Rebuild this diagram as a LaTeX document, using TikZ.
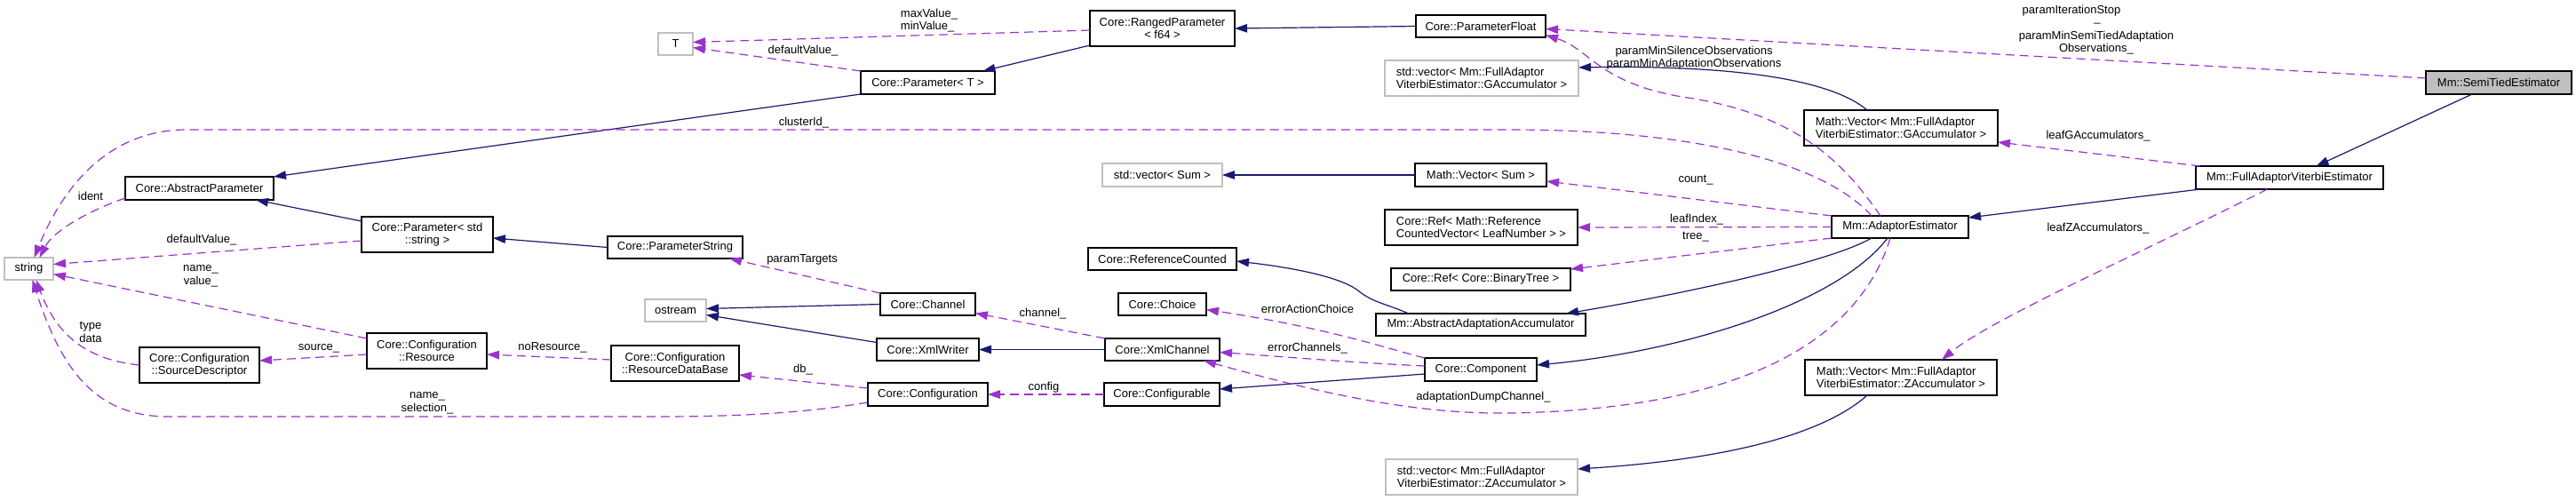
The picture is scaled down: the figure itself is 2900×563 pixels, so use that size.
\documentclass[tikz,border=0pt]{standalone}
\usepackage{fontspec}
\setmainfont{Liberation Sans}
\usetikzlibrary{arrows.meta}
\definecolor{inh}{RGB}{25,25,112}
\definecolor{usec}{RGB}{154,50,205}
\definecolor{extc}{RGB}{191,191,191}
\begin{document}
\begin{tikzpicture}[x=1pt,y=-1pt,
  every node/.style={font=\fontsize{13}{14.5}\selectfont, inner sep=0pt, outer sep=0pt},
  cls/.style={draw=black, fill=white, line width=1.2pt, align=center},
  clsl/.style={cls, align=left},
  extcls/.style={cls, draw=extc},
  extclsl/.style={clsl, draw=extc},
  lbl/.style={align=center},
  inhedge/.style={draw=inh, line width=1.2pt, -{Triangle[length=14pt,width=9.5pt]}},
  useedge/.style={draw=usec, line width=1.2pt, dash pattern=on 10pt off 6pt, -{Triangle[length=14pt,width=9.5pt]}}
]
\useasboundingbox (0,0) rectangle (2900,563);

% ---------- nodes ----------
\node[extcls, minimum width=39pt, minimum height=25pt] (T) at (760.5,49.5) {T};
\node[extcls, minimum width=55pt, minimum height=25pt] (string) at (32.5,302.5) {string};
\node[cls, minimum width=167pt, minimum height=26pt] (absparam) at (224.5,212) {Core::AbstractParameter};
\node[cls, minimum width=148pt, minimum height=40pt] (pstd) at (481,264) {Core::Parameter< std\\::string >};
\node[cls, minimum width=152pt, minimum height=25pt] (pstring) at (760,278.5) {Core::ParameterString};
\node[cls, minimum width=163pt, minimum height=40pt] (ranged) at (1308.5,32) {Core::RangedParameter\\< f64 >};
\node[cls, minimum width=151pt, minimum height=26pt] (paramT) at (1044.5,93) {Core::Parameter< T >};
\node[cls, minimum width=146pt, minimum height=25pt] (pfloat) at (1667,29.5) {Core::ParameterFloat};
\node[extclsl, minimum width=218pt, minimum height=40pt] (svg) at (1668,88) {std::vector< Mm::FullAdaptor\\ViterbiEstimator::GAccumulator >};
\node[clsl, minimum width=218pt, minimum height=40pt] (mvg) at (2140,144) {Math::Vector< Mm::FullAdaptor\\ViterbiEstimator::GAccumulator >};
\node[extcls, minimum width=135pt, minimum height=26pt] (svsum) at (1308.5,197) {std::vector< Sum >};
\node[cls, minimum width=148pt, minimum height=26pt] (mvsum) at (1667,197) {Math::Vector< Sum >};
\node[clsl, minimum width=217pt, minimum height=40pt] (refleaf) at (1667.5,256) {Core::Ref< Math::Reference\\CountedVector< LeafNumber > >};
\node[cls, minimum width=154pt, minimum height=25pt] (ae) at (2139,255.5) {Mm::AdaptorEstimator};
\node[cls, fill=extc, minimum width=164pt, minimum height=26pt] (semitied) at (2813,93) {Mm::SemiTiedEstimator};
\node[cls, minimum width=211pt, minimum height=26pt] (fullad) at (2577.5,200) {Mm::FullAdaptorViterbiEstimator};
\node[cls, minimum width=167pt, minimum height=25pt] (refcount) at (1308.5,291.5) {Core::ReferenceCounted};
\node[cls, minimum width=202pt, minimum height=25pt] (refbin) at (1667,314.5) {Core::Ref< Core::BinaryTree >};
\node[cls, minimum width=236pt, minimum height=25pt] (absadapt) at (1667,365.5) {Mm::AbstractAdaptationAccumulator};
\node[cls, minimum width=126pt, minimum height=26pt] (component) at (1667,416) {Core::Component};
\node[clsl, minimum width=216pt, minimum height=40pt] (mvz) at (2140,425) {Math::Vector< Mm::FullAdaptor\\ViterbiEstimator::ZAccumulator >};
\node[extclsl, minimum width=216pt, minimum height=40pt] (svz) at (1668,537) {std::vector< Mm::FullAdaptor\\ViterbiEstimator::ZAccumulator >};
\node[extcls, minimum width=69pt, minimum height=25pt] (ostream) at (760.5,349.5) {ostream};
\node[cls, minimum width=107pt, minimum height=25pt] (channel) at (1044.5,342.5) {Core::Channel};
\node[cls, minimum width=115pt, minimum height=25pt] (xmlwriter) at (1044.5,393.5) {Core::XmlWriter};
\node[cls, minimum width=99pt, minimum height=25pt] (choice) at (1308.5,342.5) {Core::Choice};
\node[cls, minimum width=129pt, minimum height=25pt] (xmlchannel) at (1308.5,393.5) {Core::XmlChannel};
\node[cls, minimum width=135pt, minimum height=26pt] (configuration) at (1044.5,444) {Core::Configuration};
\node[cls, minimum width=130pt, minimum height=26pt] (configurable) at (1308,444) {Core::Configurable};
\node[cls, minimum width=135pt, minimum height=40pt] (srcdesc) at (224.5,411) {Core::Configuration\\::SourceDescriptor};
\node[cls, minimum width=135pt, minimum height=40pt] (confres) at (480.5,395) {Core::Configuration\\::Resource};
\node[cls, minimum width=144pt, minimum height=40pt] (rdb) at (760,409) {Core::Configuration\\::ResourceDataBase};

% ---------- inheritance edges ----------
\path[inhedge] (pfloat.west) -- (ranged.east);
\path[inhedge] ([yshift=1pt]ranged.south west) -- ([xshift=62pt]paramT.north);
\path[inhedge] (paramT.south west) -- (absparam.north east);
\path[inhedge] ([yshift=-5pt]pstd.north west) -- ([xshift=-20pt]absparam.south east);
\path[inhedge] (pstring.west) -- ([yshift=-4pt]pstd.east);
\path[inhedge] (channel.west) -- ([yshift=2pt]ostream.east);
\path[inhedge] ([yshift=8pt]xmlwriter.west) -- ([yshift=-5pt]ostream.east);
\path[inhedge] (xmlchannel.west) -- (xmlwriter.east);
\path[inhedge] (mvsum.west) -- (svsum.east);
\path[inhedge] ([xshift=-38pt]mvg.north) .. controls (2050,80) and (1900,74) .. ([yshift=12pt]svg.east);
\path[inhedge] ([xshift=-81pt]absadapt.north) .. controls (1560,342) and (1545,340) .. (1530,328) .. controls (1515,315) and (1470,303) .. ([yshift=-2.5pt]refcount.east);
\path[inhedge] ([xshift=-32pt]ae.south) .. controls (2060,295) and (1900,330) .. ([xshift=-22pt]absadapt.north east);
\path[inhedge] ([xshift=-14pt]ae.south) .. controls (2070,340) and (1900,395) .. ([yshift=5pt]component.east);
\path[inhedge] ([yshift=-5pt]component.west) -- ([yshift=6pt]configurable.east);
\path[inhedge] ([xshift=5pt]fullad.south west) -- ([yshift=-2pt]ae.north east);
\path[inhedge] ([xshift=-30pt]semitied.south) -- ([xshift=30pt]fullad.north);
\path[inhedge] ([xshift=-38pt]mvz.south) .. controls (2040,500) and (1900,520) .. ([yshift=9pt]svz.east);

% ---------- usage edges ----------
\path[useedge] ([yshift=-2pt]ranged.west) -- ([yshift=2pt]T.east);
\path[useedge] (paramT.north west) -- ([yshift=-4pt]T.east);
\path[useedge] ([yshift=2pt]absparam.south west) .. controls (100,237) and (60,260) .. ([xshift=12pt]string.north);
\path[useedge] ([xshift=-32pt]ae.north) .. controls (2050,180) and (1900,146) .. (1700,146) -- (210,146) .. controls (130,146) and (75,200) .. ([xshift=6pt]string.north);
\path[useedge] ([yshift=-7pt]pstd.west) -- ([yshift=5pt]string.east);
\path[useedge] ([yshift=14pt]confres.west) -- ([yshift=-6pt]string.east);
\path[useedge] (srcdesc.west) .. controls (100,405) and (65,380) .. ([xshift=8pt]string.south);
\path[useedge] ([yshift=-4pt]confres.west) -- ([yshift=5pt]srcdesc.east);
\path[useedge] ([yshift=4pt]rdb.west) -- ([yshift=-4pt]confres.east);
\path[useedge] ([yshift=4pt]configuration.south west) .. controls (900,466) and (820,469) .. (740,469) -- (190,469) .. controls (110,469) and (70,420) .. ([xshift=4pt]string.south);
\path[useedge] ([yshift=7pt]configuration.west) -- ([yshift=-13pt]rdb.east);
\path[useedge] (configurable.west) -- (configuration.east);
\path[useedge] (channel.north west) -- ([xshift=-15pt]pstring.south east);
\path[useedge] (xmlchannel.north west) -- ([yshift=-10pt]channel.east);
\path[useedge] (component.north west) .. controls (1570,395) and (1500,370) .. ([yshift=-6pt]choice.east);
\path[useedge] ([yshift=4pt]component.west) .. controls (1520,408) and (1450,402) .. ([yshift=-3pt]xmlchannel.east);
\path[useedge] ([xshift=-11pt]ae.south) .. controls (2100,360) and (2000,460) .. (1700,465) .. controls (1580,467) and (1460,435) .. ([xshift=-18pt]xmlchannel.south east);
\path[useedge] (ae.north west) -- ([yshift=-7pt]mvsum.east);
\path[useedge] (ae.west) -- (refleaf.east);
\path[useedge] (ae.south west) -- ([yshift=-1pt]refbin.north east);
\path[useedge] ([xshift=-22pt]ae.north) .. controls (2080,190) and (2030,130) .. (1900,110) .. controls (1800,95) and (1790,55) .. ([yshift=-10pt]pfloat.east);
\path[useedge] ([yshift=5pt]semitied.west) -- ([yshift=-3pt]pfloat.east);
\path[useedge] ([xshift=5pt]fullad.north west) -- ([yshift=-16pt]mvg.east);
\path[useedge] ([xshift=-25pt]fullad.south) .. controls (2420,280) and (2240,360) .. ([xshift=46pt]mvz.north);

% ---------- labels ----------
\node[lbl, align=left] (l_maxmin) at (1046,23) {maxValue\_\\minValue\_};
\node[lbl] (l_defT) at (904,57) {defaultValue\_};
\node[lbl] (l_cluster) at (905,138) {clusterId\_};
\node[lbl] (l_targets) at (903,292) {paramTargets};
\node[lbl] (l_channel) at (1174,353) {channel\_};
\node[lbl] (l_db) at (904,416) {db\_};
\node[lbl] (l_config) at (1175,436) {config};
\node[lbl] (l_errchoice) at (1472,348) {errorActionChoice};
\node[lbl] (l_errchan) at (1472,392) {errorChannels\_};
\node[lbl] (l_ident) at (102,221) {ident};
\node[lbl] (l_defS) at (227,270) {defaultValue\_};
\node[lbl] (l_namevalue) at (226,311) {name\_\\value\_};
\node[lbl] (l_typedata) at (102,374) {type\\data};
\node[lbl] (l_source) at (359,392) {source\_};
\node[lbl] (l_nores) at (622,391) {noResource\_};
\node[lbl] (l_namesel) at (481,454) {name\_\\selection\_};
\node[lbl] (l_minobs) at (1907,65) {paramMinSilenceObservations\\paramMinAdaptationObservations};
\node[lbl] (l_count) at (1909,203) {count\_};
\node[lbl] (l_leafidx) at (1910,247) {leafIndex\_};
\node[lbl] (l_tree) at (1909,267) {tree\_};
\node[lbl] (l_dump) at (1670,447) {adaptationDumpChannel\_};
\node[lbl] (l_leafG) at (2362,153) {leafGAccumulators\_};
\node[lbl] (l_leafZ) at (2362,257) {leafZAccumulators\_};
\node[lbl] (l_iter) at (2332,12) {paramIterationStop};
\node[lbl] (l_us) at (2361,26) {\_};
\node[lbl] (l_semi) at (2360,48) {paramMinSemiTiedAdaptation\\Observations\_};
\end{tikzpicture}
\end{document}
